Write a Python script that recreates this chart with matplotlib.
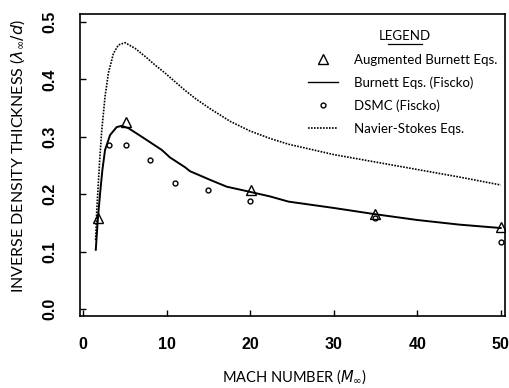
import matplotlib.pyplot as plt
from matplotlib.lines import Line2D

# Burnett equations (Fiscko) - solid curve
burnett_mach = [1.52, 1.76, 2.04, 2.31, 2.63, 3.23, 4.03, 4.63, 5.43, 7.03, 9.43, 10.4, 12.2, 12.8,
                15.2, 17.2, 20.0, 22.4, 24.6, 30, 35, 40, 45, 50]
burnett_thk = [0.103, 0.155, 0.202, 0.242, 0.277, 0.303, 0.317, 0.319, 0.315, 0.300, 0.277, 0.264,
               0.247, 0.240, 0.225, 0.213, 0.204, 0.196, 0.187, 0.176, 0.165, 0.155, 0.147, 0.141]

# Navier-Stokes equations - dotted curve
ns_mach = [1.5, 1.64, 2.0, 2.24, 2.63, 3.03, 3.63, 4.23, 5.03, 6.23, 7.43, 8.62, 9.82, 11.0, 12.2,
           13.5, 15.2, 17.6, 20.0, 22.4, 24.6, 30, 35, 40, 45, 50]
ns_thk = [0.12, 0.172, 0.262, 0.312, 0.370, 0.411, 0.445, 0.460, 0.464, 0.454, 0.440, 0.425, 0.411,
          0.396, 0.381, 0.366, 0.349, 0.327, 0.310, 0.297, 0.287, 0.269, 0.256, 0.243, 0.230, 0.216]

# Augmented Burnett equations - triangles
aug_mach = [1.84, 5.1, 20.1, 35, 50]
aug_thk = [0.159, 0.326, 0.208, 0.166, 0.143]

# DSMC (Fiscko) - circles
dsmc_mach = [3.05, 5.1, 8.0, 11.0, 15.0, 20.0, 35, 50]
dsmc_thk = [0.285, 0.285, 0.259, 0.219, 0.207, 0.188, 0.158, 0.117]

fig = plt.figure(figsize=(5.1, 3.88), dpi=100)
ax = fig.add_axes([0.157, 0.186, 0.833, 0.778])

ax.plot(burnett_mach, burnett_thk, color='black', lw=1.4)
ax.plot(ns_mach, ns_thk, color='black', lw=1.2, ls=(0, (1, 0.8)))
ax.plot(aug_mach, aug_thk, ls='none', marker='^', ms=7, mfc='none', mec='black', mew=1.0)
ax.plot(dsmc_mach, dsmc_thk, ls='none', marker='o', ms=3.5, mfc='none', mec='black', mew=1.0)

ax.set_xlim(-0.36, 50.5)
ax.set_ylim(-0.012, 0.514)
ax.set_xticks([0, 10, 20, 30, 40, 50])
ax.set_yticks([0.0, 0.1, 0.2, 0.3, 0.4, 0.5])
ax.set_yticklabels(['0.0', '0.1', '0.2', '0.3', '0.4', '0.5'])
ax.tick_params(direction='in', length=4, width=1)
ax.tick_params(axis='x', pad=15)
ax.tick_params(axis='y', pad=16)
for lab in ax.get_xticklabels() + ax.get_yticklabels():
    lab.set_fontfamily('Liberation Sans')
    lab.set_fontsize(11.5)
    lab.set_fontweight('bold')
plt.setp(ax.get_yticklabels(), rotation=90, va='center')
for sp in ax.spines.values():
    sp.set_linewidth(1.2)

ax.set_xlabel(r'MACH NUMBER ($M_\infty$)', fontsize=10.5, family='Lato')
ax.set_ylabel(r'INVERSE DENSITY THICKNESS ($\lambda_\infty/d$)', fontsize=11.5, family='Lato')
ax.xaxis.set_label_coords(0.505, -0.172)
ax.yaxis.set_label_coords(-0.124, 0.53)

# legend
handles = [
    Line2D([], [], ls='none', marker='^', ms=7, mfc='none', mec='black', mew=1.0),
    Line2D([], [], color='black', lw=1.0),
    Line2D([], [], ls='none', marker='o', ms=3.5, mfc='none', mec='black', mew=1.0),
    Line2D([], [], color='black', lw=1.2, ls=(0, (1, 0.8))),
]
labels = ['Augmented Burnett Eqs.', 'Burnett Eqs. (Fiscko)', 'DSMC (Fiscko)', 'Navier-Stokes Eqs.']
ax.legend(handles, labels, loc='upper left', bbox_to_anchor=(0.536, 0.868), frameon=False,
          borderpad=0, borderaxespad=0, handlelength=2.3, handletextpad=1.2, labelspacing=0.8,
          prop={'family': 'Lato', 'size': 9.5})
ax.text(0.765, 0.927, 'LEGEND', transform=ax.transAxes, ha='center', va='center',
        family='Lato', fontsize=9.5)
ax.plot([0.724, 0.806], [0.902, 0.902], color='black', lw=0.9, transform=ax.transAxes, clip_on=False)

fig.savefig('out.png', dpi=100)
